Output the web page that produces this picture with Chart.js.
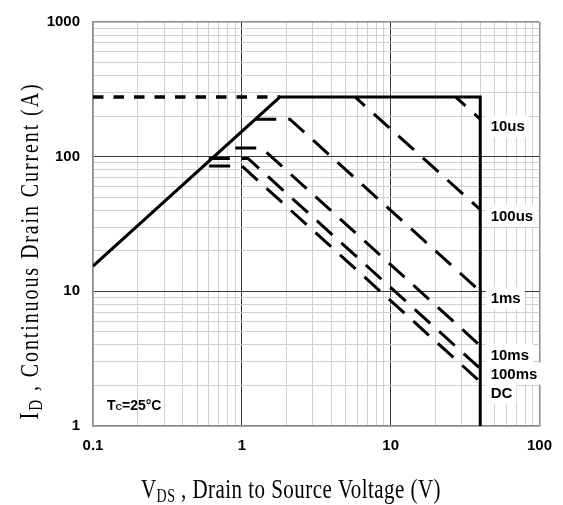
<!DOCTYPE html>
<html>
<head>
<meta charset="utf-8">
<script src="https://cdn.jsdelivr.net/npm/chart.js@4.4.1/dist/chart.umd.min.js"></script>
<style>
  html, body { margin: 0; padding: 0; background: #fff; }
  #soa { display: block; }
</style>
</head>
<body>
<canvas id="soa" width="563" height="505"></canvas>
<script>
// axis ticks (log decades with 2..9 minor lines)
const vdsTicks = [0.1, 0.2, 0.3, 0.4, 0.5, 0.6, 0.7, 0.8, 0.9,
    1, 2, 3, 4, 5, 6, 7, 8, 9,
    10, 20, 30, 40, 50, 60, 70, 80, 90, 100];
const idTicks = [1, 2, 3, 4, 5, 6, 7, 8, 9,
    10, 20, 30, 40, 50, 60, 70, 80, 90,
    100, 200, 300, 400, 500, 600, 700, 800, 900, 1000];
const vdsLabels = ['0.1', '1', '10', '100'];
const idLabels = ['1', '10', '100', '1000'];

// SOA boundary: Rds(on) limit, package limit, BVdss
const limitV = [0.1, 1.8, 40, 40];
const limitI = [15.4, 277, 277, 1];
const pkgV = [0.1, 1.8];
const pkgI = [277, 277];

// pulse width lines
const us10V = [27.4, 40];
const us10I = [277, 190];
const us100V = [5.78, 40];
const us100I = [277, 40.5];
const ms1V = [1.23, 2.1, 40];
const ms1I = [190, 190, 10];
const ms10V = [0.75, 1.36, 40];
const ms10I = [116, 116, 3.95];
const ms100V = [0.6, 1.1, 40];
const ms100I = [97, 97, 2.67];
const dcV = [0.55, 1.0, 40];
const dcI = [85.3, 85.3, 2.13];

const lineLabels = ['10us', '100us', '1ms', '10ms', '100ms', 'DC'];
const lineLabelV = 47;
const lineLabelI = [168, 36.4, 8.9, 3.4, 2.45, 1.75];

const toPoints = (xs, ys) => xs.map((x, i) => ({ x, y: ys[i] }));

const isDecade = v => Math.abs(Math.log10(v) - Math.round(Math.log10(v))) < 1e-9;

function gridColor(ctx, min, max) {
    const v = ctx.tick ? ctx.tick.value : null;
    if (v === null) return '#cfcfcf';
    if (v === min || v === max) return '#8a8a8a';
    return isDecade(v) ? '#3a3a3a' : '#cfcfcf';
}

function gridWidth(ctx, min, max) {
    const v = ctx.tick ? ctx.tick.value : null;
    if (v === min || v === max) return 1.5;
    return 1;
}

const dashed = (data, offset) => ({
    data,
    showLine: true,
    borderColor: '#000',
    borderWidth: 3,
    borderDash: [21, 12],
    borderDashOffset: offset || 0,
    pointRadius: 0,
    fill: false
});

const TICK_FONT = { family: '"Liberation Sans", Arial, sans-serif', size: 15, weight: 'bold' };
const SERIF = '"Liberation Serif", "Times New Roman", serif';

// text in the source is drawn tall and narrow, so stretch it vertically
function drawRich(ctx, parts, cx, baseY, spacing, stretch) {
    ctx.save();
    ctx.letterSpacing = spacing + 'px';
    let total = 0;
    const widths = parts.map(([t, size]) => {
        ctx.font = `${size}px ${SERIF}`;
        const w = ctx.measureText(t).width;
        total += w;
        return w;
    });
    ctx.translate(0, baseY);
    ctx.scale(1, stretch);
    let x = cx - total / 2;
    parts.forEach(([t, size, dy], i) => {
        ctx.font = `${size}px ${SERIF}`;
        ctx.fillText(t, x, dy);
        x += widths[i];
    });
    ctx.restore();
}

const annotations = {
    id: 'annotations',
    afterDatasetsDraw(chart) {
        const { ctx, scales: { x, y } } = chart;
        ctx.save();
        ctx.font = 'bold 15px "Liberation Sans", Arial, sans-serif';
        ctx.textBaseline = 'middle';
        ctx.textAlign = 'left';
        const px = x.getPixelForValue(lineLabelV);
        lineLabels.forEach((t, i) => {
            const py = y.getPixelForValue(lineLabelI[i]);
            const w = ctx.measureText(t).width;
            ctx.fillStyle = '#fff';
            ctx.fillRect(px - 5, py - 11, w + 9, 22);
        });
        ctx.fillStyle = '#000';
        lineLabels.forEach((t, i) => {
            ctx.fillText(t, px, y.getPixelForValue(lineLabelI[i]) + 1);
        });

        // Tc label
        ctx.textBaseline = 'alphabetic';
        let tx = x.getPixelForValue(0.124);
        const ty = y.getPixelForValue(1.43) + 5;
        ctx.font = 'bold 14px "Liberation Sans", Arial, sans-serif';
        ctx.fillText('T', tx, ty);
        tx += ctx.measureText('T').width;
        ctx.font = 'bold 9px "Liberation Sans", Arial, sans-serif';
        ctx.fillText('C', tx, ty);
        tx += ctx.measureText('C').width;
        ctx.font = 'bold 14px "Liberation Sans", Arial, sans-serif';
        ctx.fillText('=25°C', tx, ty);
        ctx.restore();
    },
    afterDraw(chart) {
        const ctx = chart.ctx;
        ctx.save();
        ctx.fillStyle = '#000';
        ctx.textAlign = 'left';
        ctx.textBaseline = 'alphabetic';
        // x title
        drawRich(ctx, [['V', 21, 0], ['DS', 14, 3], [' , Drain to Source Voltage (V)', 21, 0]], 291, 498, 0.45, 1.3);
        // y title
        ctx.translate(38, 251);
        ctx.rotate(-Math.PI / 2);
        drawRich(ctx, [['I', 21, 0], ['D', 15, 3], [' , Continuous Drain Current (A)', 20, 0]], 0, 0, 1.9, 1.3);
        ctx.restore();
    }
};

new Chart(document.getElementById('soa'), {
    type: 'scatter',
    data: {
        datasets: [
            {
                data: toPoints(limitV, limitI),
                showLine: true,
                borderColor: '#000',
                borderWidth: 3,
                pointRadius: 0,
                borderJoinStyle: 'miter',
                fill: false
            },
            {
                data: toPoints(pkgV, pkgI),
                showLine: true,
                borderColor: '#000',
                borderWidth: 3.5,
                borderDash: [10.5, 10],
                pointRadius: 0,
                fill: false
            },
            dashed(toPoints(us10V, us10I), 8),
            dashed(toPoints(us100V, us100I), 8),
            dashed(toPoints(ms1V, ms1I)),
            dashed(toPoints(ms10V, ms10I), 21),
            dashed(toPoints(ms100V, ms100I)),
            dashed(toPoints(dcV, dcI), 27)
        ]
    },
    options: {
        responsive: false,
        devicePixelRatio: 1,
        animation: false,
        layout: { padding: { left: 0, top: 19, right: 22, bottom: 0 } },
        plugins: {
            legend: { display: false },
            tooltip: { enabled: false }
        },
        scales: {
            x: {
                type: 'logarithmic',
                min: 0.1,
                max: 100,
                afterBuildTicks: axis => { axis.ticks = vdsTicks.map(value => ({ value })); },
                afterFit: axis => { axis.height = 79; },
                ticks: {
                    autoSkip: false,
                    maxRotation: 0,
                    padding: 11,
                    color: '#000',
                    font: TICK_FONT,
                    callback: value => vdsLabels.includes(String(value)) ? String(value) : ''
                },
                grid: {
                    drawTicks: false,
                    color: c => gridColor(c, 0.1, 100),
                    lineWidth: c => gridWidth(c, 0.1, 100)
                },
                border: { color: '#8a8a8a', width: 1.5 }
            },
            y: {
                type: 'logarithmic',
                min: 1,
                max: 1000,
                afterBuildTicks: axis => { axis.ticks = idTicks.map(value => ({ value })); },
                afterFit: axis => { axis.width = 93; },
                ticks: {
                    autoSkip: false,
                    padding: 13,
                    color: '#000',
                    font: TICK_FONT,
                    callback: value => idLabels.includes(String(value)) ? String(value) : ''
                },
                grid: {
                    drawTicks: false,
                    color: c => gridColor(c, 1, 1000),
                    lineWidth: c => gridWidth(c, 1, 1000)
                },
                border: { color: '#8a8a8a', width: 1.5 }
            }
        }
    },
    plugins: [annotations]
});
</script>
</body>
</html>
